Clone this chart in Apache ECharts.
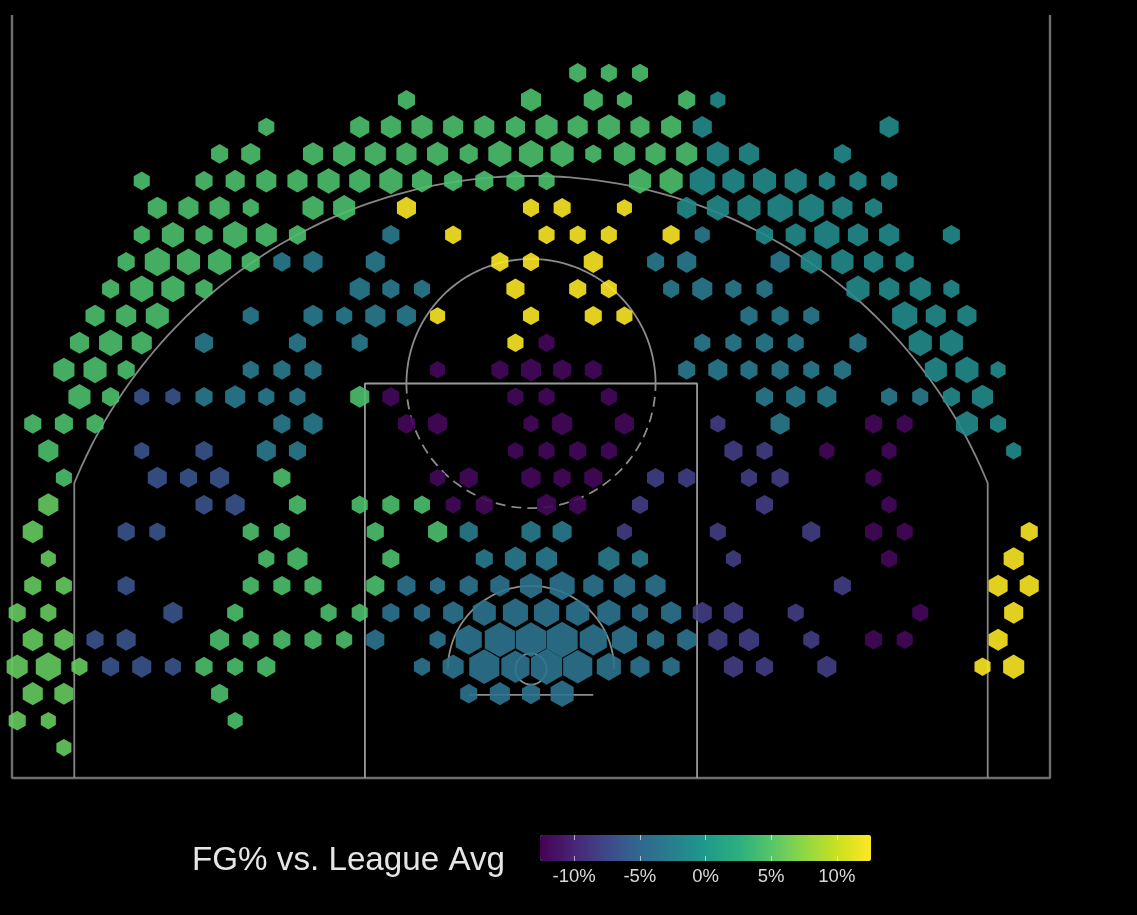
<!DOCTYPE html>
<html>
<head>
<meta charset="utf-8">
<title>FG% vs. League Avg</title>
<script src="https://cdn.jsdelivr.net/npm/echarts@6/dist/echarts.min.js"></script>
<style>
html,body{margin:0;padding:0;background:#000;}
#main{width:1137px;height:915px;filter:blur(0.5px);}
</style>
</head>
<body>
<div id="main"></div>
<script>
// FG% vs league average per zone
var LC = 5.7;    // left corner
var G = 4.4;     // left above the break
var Y = 12.5;    // right corner + top of the key
var T = -1.4;    // right above the break
var B = -3.0;    // mid range teal-blue
var RA = -3.8;   // around the rim
var I = -6.7;    // left mid range indigo
var V = -8.3;    // right mid range violet
var P = -12.1;   // dark purple

// one list per hexagon row, from the top of the court down: [column, frequency, fg diff]
var row00 = [[3,17,G],[5,16,G],[7,16,G]];
var row01 = [[-8,17,G],[0,20,G],[4,19,G],[6,15,G],[10,17,G],[12,15,T]];
var row02 = [[-17,16,G],[-11,19,G],[-9,20,G],[-7,21,G],[-5,20,G],[-3,20,G],[-1,19,G],[1,22,G],[3,20,G],[5,22,G],[7,19,G],[9,20,G],[11,19,T],[23,19,T]];
var row03 = [[-20,17,G],[-18,19,G],[-14,20,G],[-12,22,G],[-10,21,G],[-8,20,G],[-6,21,G],[-4,18,G],[-2,23,G],[0,24,G],[2,23,G],[4,16,G],[6,21,G],[8,20,G],[10,21,G],[12,22,T],[14,20,T],[20,17,T]];
var row04 = [[-25,16,G],[-21,17,G],[-19,19,G],[-17,20,G],[-15,20,G],[-13,22,G],[-11,21,G],[-9,23,G],[-7,20,G],[-5,18,G],[-3,18,G],[-1,18,G],[1,16,G],[7,22,G],[9,23,G],[11,25,T],[13,22,T],[15,23,T],[17,22,T],[19,16,T],[21,17,T],[23,16,T]];
var row05 = [[-24,19,G],[-22,20,G],[-20,20,G],[-18,16,G],[-14,21,G],[-12,22,G],[-8,19,Y],[0,16,Y],[2,17,Y],[6,15,Y],[10,19,T],[12,22,T],[14,23,T],[16,25,T],[18,25,T],[20,20,T],[22,17,T]];
var row06 = [[-25,16,G],[-23,22,G],[-21,17,G],[-19,24,G],[-17,21,G],[-15,17,G],[-9,17,B],[-5,16,Y],[1,16,Y],[3,16,Y],[5,16,Y],[9,17,Y],[11,15,B],[15,17,T],[17,20,T],[19,25,T],[21,20,T],[23,20,T],[27,17,T]];
var row07 = [[-26,17,G],[-24,25,G],[-22,23,G],[-20,23,G],[-18,18,G],[-16,17,B],[-14,19,B],[-10,19,B],[-2,17,Y],[0,16,Y],[4,19,Y],[8,17,B],[10,19,B],[16,19,B],[18,21,T],[20,22,T],[22,19,T],[24,18,T]];
var row08 = [[-27,17,G],[-25,23,G],[-23,23,G],[-21,17,G],[-11,20,B],[-9,17,B],[-7,16,B],[-1,18,Y],[3,17,Y],[5,16,Y],[9,16,B],[11,20,B],[13,16,B],[15,16,B],[21,23,T],[23,20,T],[25,21,T],[27,16,T]];
var row09 = [[-28,19,G],[-26,20,G],[-24,23,G],[-18,16,B],[-14,19,B],[-12,16,B],[-10,20,B],[-8,19,B],[-6,15,Y],[0,16,Y],[4,17,Y],[6,16,Y],[14,17,B],[16,17,B],[18,16,B],[24,25,T],[26,20,T],[28,19,T]];
var row10 = [[-29,19,G],[-27,23,G],[-25,20,G],[-21,18,B],[-15,17,B],[-11,16,B],[-1,16,Y],[1,16,P],[11,16,B],[13,16,B],[15,17,B],[17,16,B],[21,17,B],[25,23,T],[27,23,T]];
var row11 = [[-30,21,G],[-28,23,G],[-26,17,G],[-18,16,B],[-16,17,B],[-14,17,B],[-6,15,P],[-2,17,P],[0,20,P],[2,18,P],[4,17,P],[10,17,B],[12,19,B],[14,17,B],[16,17,B],[18,16,B],[20,17,B],[26,22,T],[28,23,T],[30,15,T]];
var row12 = [[-29,22,G],[-27,17,G],[-25,15,I],[-23,15,I],[-21,17,B],[-19,20,B],[-17,16,B],[-15,16,B],[-11,19,G],[-9,17,P],[-1,16,P],[1,16,P],[5,16,P],[15,17,B],[17,19,B],[19,19,B],[23,16,B],[25,16,B],[27,17,T],[29,21,T]];
var row13 = [[-32,17,G],[-30,18,G],[-28,17,G],[-16,17,B],[-14,19,B],[-8,17,P],[-6,19,P],[0,15,P],[2,20,P],[6,19,P],[12,15,V],[16,19,B],[22,17,P],[24,16,P],[28,22,T],[30,16,T]];
var row14 = [[-31,20,G],[-25,15,I],[-21,17,I],[-17,19,B],[-15,17,B],[-1,15,P],[1,16,P],[3,17,P],[5,16,P],[13,18,V],[15,16,V],[19,15,P],[23,15,P],[31,15,T]];
var row15 = [[-30,16,G],[-24,19,I],[-22,17,I],[-20,19,I],[-16,17,G],[-6,15,P],[-4,18,P],[0,19,P],[2,17,P],[4,18,P],[8,17,V],[10,17,V],[14,16,V],[16,17,V],[22,16,P]];
var row16 = [[-31,20,LC],[-21,17,I],[-19,19,I],[-15,17,G],[-11,16,G],[-9,17,G],[-7,16,G],[-5,15,P],[-3,17,P],[1,19,P],[3,17,P],[7,16,V],[15,17,V],[23,15,P]];
var row17 = [[-32,20,LC],[-26,17,I],[-24,16,I],[-18,16,G],[-16,16,G],[-10,17,G],[-6,19,G],[-4,18,B],[0,19,B],[2,19,B],[6,15,V],[12,16,V],[18,18,V],[22,17,P],[24,16,P],[32,17,Y]];
var row18 = [[-31,15,LC],[-17,16,G],[-15,20,G],[-9,17,G],[-3,17,B],[-1,21,B],[1,21,B],[5,21,B],[7,16,B],[13,15,V],[23,16,P],[31,20,Y]];
var row19 = [[-32,17,LC],[-30,16,LC],[-26,17,I],[-18,16,G],[-16,17,G],[-14,17,G],[-10,18,G],[-8,18,RA],[-6,15,RA],[-4,18,RA],[-2,19,RA],[0,22,RA],[2,25,RA],[4,20,RA],[6,21,RA],[8,20,RA],[20,17,V],[30,19,Y],[32,19,Y]];
var row20 = [[-33,17,LC],[-31,16,LC],[-23,19,I],[-19,16,G],[-13,16,G],[-11,16,G],[-9,17,RA],[-7,16,RA],[-5,20,RA],[-3,23,RA],[-1,25,RA],[1,25,RA],[3,23,RA],[5,23,RA],[7,16,RA],[9,20,RA],[11,19,V],[13,19,V],[17,16,V],[25,16,P],[31,19,Y]];
var row21 = [[-32,20,LC],[-30,19,LC],[-28,17,I],[-26,19,I],[-20,19,G],[-18,16,G],[-16,17,G],[-14,17,G],[-12,16,G],[-10,18,RA],[-6,16,RA],[-4,26,RA],[-2,30,RA],[0,30,RA],[2,31,RA],[4,27,RA],[6,25,RA],[8,17,RA],[10,19,RA],[12,19,V],[14,20,V],[18,16,V],[22,17,P],[24,16,P],[30,19,Y]];
var row22 = [[-33,21,LC],[-31,25,LC],[-29,16,LC],[-27,17,I],[-25,19,I],[-23,16,I],[-21,17,G],[-19,16,G],[-17,18,G],[-7,16,RA],[-5,21,RA],[-3,30,RA],[-1,28,RA],[1,31,RA],[3,29,RA],[5,24,RA],[7,19,RA],[9,17,RA],[13,19,V],[15,17,V],[19,19,V],[29,16,Y],[31,21,Y]];
var row23 = [[-32,20,LC],[-30,19,LC],[-20,17,G],[-4,17,RA],[-2,20,RA],[0,18,RA],[2,23,RA]];
var row24 = [[-33,17,LC],[-31,15,LC],[-19,15,G]];
var row25 = [[-30,15,LC]];
var hexRows = [row00,row01,row02,row03,row04,row05,row06,row07,row08,row09,row10,row11,row12,
	row13,row14,row15,row16,row17,row18,row19,row20,row21,row22,row23,row24,row25];

var legendTicks = [-10,-5,0,5,10];
var colorRange = [-12.6,12.6];
// viridis as it lies along the colour bar, 0% sits a little past the middle of the map
var viridis = ['#440154','#482475','#3f4889','#31688e','#277f8e','#1f9a8a','#2bae7f','#56c667','#8fd744','#cae11f','#fde725'];

// court in feet, origin at the middle of the baseline
var courtTop = 36.75;
var halfWidth = 25;
var hoopY = 5.25;
var keyHalf = 8;
var keyTop = 19;
var ftRadius = 6;
var arcRadius = 23.75;
var cornerX = 22;
var raRadius = 4;
var hoopRadius = 0.75;
var backboardHalf = 3;
var backboardY = 4;

// hex bin size in feet
var binW = 1.5;
var binH = 1.3;
var firstRowY = 33.96;
var maxFreq = 31;

function arc(cx,cy,r,from,to){
	var pts = [];
	var n = 120;
	for(var i=0;i<=n;i++){
		var a = (from+(to-from)*i/n)*Math.PI/180;
		pts.push([cx+r*Math.cos(a),cy+r*Math.sin(a)]);
	}
	return pts;
}

var hexData = [];
hexRows.forEach(function(row,r){
	row.forEach(function(h){
		hexData.push([h[0]*binW/2,firstRowY-r*binH,h[1],h[2]]);
	});
});

function renderHex(params,api){
	var c = api.coord([api.value(0),api.value(1)]);
	var cell = api.size([binW,0])[0];
	var w = cell*api.value(2)/maxFreq;
	var R = w/Math.sqrt(3);
	var pts = [];
	for(var i=0;i<6;i++){
		var a = (90+60*i)*Math.PI/180;
		pts.push([c[0]+R*Math.cos(a),c[1]-R*Math.sin(a)]);
	}
	return {
		type:'polygon',
		shape:{points:pts},
		style:{fill:api.visual('color'),opacity:0.9}
	};
}

function courtLine(points,color,width,dash){
	return {
		type:'line',
		xAxisIndex:0,
		yAxisIndex:0,
		data:points,
		showSymbol:false,
		silent:true,
		clip:false,
		z:1,
		lineStyle:{color:color,width:width,type:dash||'solid'}
	};
}

var breakAngle = Math.acos(cornerX/arcRadius)*180/Math.PI;
var threeArc = arc(0,hoopY,arcRadius,180-breakAngle,breakAngle);

var series = [
	{
		type:'custom',
		xAxisIndex:0,
		yAxisIndex:0,
		renderItem:renderHex,
		data:hexData,
		encode:{x:0,y:1},
		silent:true,
		z:2
	},
	courtLine([[-halfWidth,courtTop],[-halfWidth,0],[halfWidth,0],[halfWidth,courtTop]],'#6e6e6e',2.4),
	courtLine([[-keyHalf,0],[-keyHalf,keyTop],[keyHalf,keyTop],[keyHalf,0]],'#9a9a9a',1.8),
	courtLine([[-cornerX,0]].concat(threeArc,[[cornerX,0]]),'#858585',1.8),
	courtLine(arc(0,keyTop,ftRadius,180,0),'#8c8c8c',1.8),
	courtLine(arc(0,keyTop,ftRadius,180,360),'#8c8c8c',1.8,[10,6]),
	courtLine(arc(0,hoopY,raRadius,180,0),'#8c8c8c',1.8),
	courtLine(arc(0,hoopY,hoopRadius,0,360),'#8c8c8c',1.8),
	courtLine([[-backboardHalf,backboardY],[backboardHalf,backboardY]],'#8c8c8c',1.8)
];

var myChart = echarts.init(document.getElementById('main'));
var option = {
	backgroundColor:'#000000',
	animation:false,
	title:{
		text:'FG% vs. League Avg',
		left:192,
		top:844,
		padding:0,
		textStyle:{color:'#e6e6e6',fontSize:33.2,fontWeight:'normal',fontFamily:'Liberation Sans'}
	},
	grid:[
		{left:12,top:15,width:1038,height:763},
		{left:540,top:835,width:331,height:26}
	],
	xAxis:[
		{type:'value',gridIndex:0,min:-halfWidth,max:halfWidth,show:false},
		{
			type:'value',gridIndex:1,min:colorRange[0],max:colorRange[1],position:'bottom',z:10,
			splitLine:{show:false},
			axisLine:{show:false},
			axisTick:{show:true,inside:true,length:5,customValues:legendTicks,lineStyle:{color:'rgba(255,255,255,0.6)',width:1}},
			axisLabel:{margin:6,color:'#d9d9d9',fontSize:18.5,fontFamily:'Liberation Sans',customValues:legendTicks,formatter:'{value}%'}
		},
		{
			type:'value',gridIndex:1,min:colorRange[0],max:colorRange[1],position:'top',z:10,
			splitLine:{show:false},
			axisLine:{show:false},
			axisTick:{show:true,inside:true,length:5,customValues:legendTicks,lineStyle:{color:'rgba(255,255,255,0.6)',width:1}},
			axisLabel:{show:false}
		}
	],
	yAxis:[
		{type:'value',gridIndex:0,min:0,max:courtTop,show:false},
		{type:'value',gridIndex:1,min:0,max:1,show:false}
	],
	visualMap:{
		type:'continuous',
		seriesIndex:0,
		dimension:3,
		min:colorRange[0],
		max:colorRange[1],
		orient:'horizontal',
		left:540,
		top:835,
		padding:0,
		itemWidth:26,
		itemHeight:331,
		text:null,
		calculable:false,
		hoverLink:false,
		inRange:{color:viridis}
	},
	series:series
};
myChart.setOption(option);
</script>
</body>
</html>
